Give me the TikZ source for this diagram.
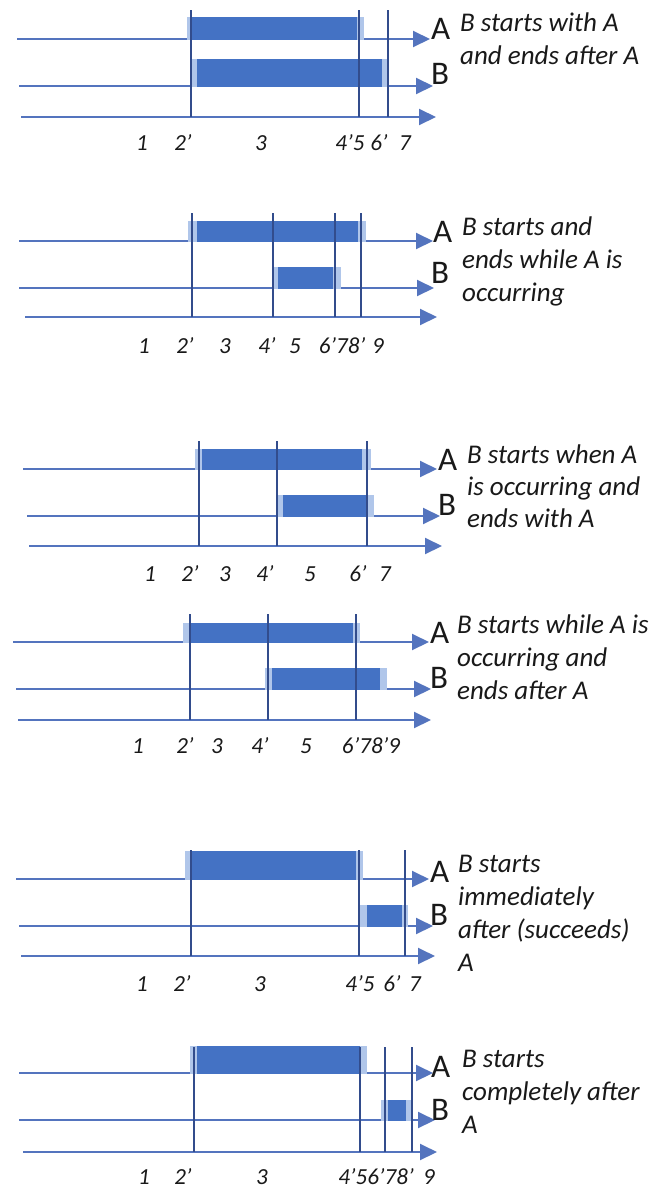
\documentclass[tikz,border=0pt]{standalone}
\usepackage{fontspec}
\setmainfont{Carlito}
\usetikzlibrary{arrows.meta}
\definecolor{barblue}{RGB}{68,114,196}
\definecolor{lightbar}{RGB}{176,198,234}
\definecolor{lineblue}{RGB}{84,116,190}
\definecolor{navy}{RGB}{50,76,140}
\definecolor{txt}{RGB}{25,25,25}
\tikzset{
  tl/.style={line width=2pt, draw=lineblue, -{Triangle[length=17pt,width=16pt]}},
  vl/.style={line width=1.1pt, draw=navy},
  dbar/.style={fill=barblue, draw=none},
  lbar/.style={fill=lightbar, draw=none},
  lab/.style={font=\fontsize{33}{33}\selectfont, anchor=base west, inner sep=0pt, text=txt},
  desc/.style={font=\fontsize{27}{33}\selectfont\itshape, anchor=base west, inner sep=0pt, text=txt},
  num/.style={font=\fontsize{23}{23}\selectfont\itshape, anchor=base, inner sep=0pt, text=txt}
}
\begin{document}
\begin{tikzpicture}[x=1pt,y=-1pt]
\useasboundingbox[fill=white] (0,0) rectangle (653,1189);

% ---------------- Panel 1 ----------------
\draw[tl] (17,39) -- (430,39);
\draw[tl] (19,86) -- (433,86);
\draw[tl] (21,117) -- (436,117);
\fill[lbar] (187,17) rectangle (364,40);
\fill[dbar] (192,17) rectangle (357,40);
\fill[lbar] (190,59) rectangle (389,87);
\fill[dbar] (197,59) rectangle (382,87);
\foreach \x in {191,359,388} \draw[vl] (\x,10) -- (\x,117);
\node[lab] (p1A) at (431,39) {A};
\node[lab] (p1B) at (431,84) {B};
\node[desc] (p1t1) at (460,31) {B starts with A};
\node[desc] (p1t2) at (460,64) {and ends after A};
\node[num] (p1n1) at (142,150) {1};
\node[num] (p1n2) at (183,150) {2’};
\node[num] (p1n3) at (261,150) {3};
\node[num] (p1n4) at (350,150) {4’5};
\node[num] (p1n6) at (379,150) {6’};
\node[num] (p1n7) at (405,150) {7};

% ---------------- Panel 2 ----------------
\draw[tl] (19,241) -- (433,241);
\draw[tl] (19,288) -- (434,288);
\draw[tl] (25,317) -- (437,317);
\fill[lbar] (188,221) rectangle (366,242);
\fill[dbar] (197,221) rectangle (358,242);
\fill[lbar] (273,267) rectangle (341,289);
\fill[dbar] (278,267) rectangle (333,289);
\foreach \x in {192,273,335,361} \draw[vl] (\x,213) -- (\x,317);
\node[lab] (p2A) at (433,242) {A};
\node[lab] (p2B) at (431,283) {B};
\node[desc] (p2t1) at (462,235) {B starts and};
\node[desc] (p2t2) at (462,268) {ends while A is};
\node[desc] (p2t3) at (462,301) {occurring};
\node[num] (p2n1) at (144,353) {1};
\node[num] (p2n2) at (185,353) {2’};
\node[num] (p2n3) at (225,353) {3};
\node[num] (p2n4) at (267,353) {4’};
\node[num] (p2n5) at (295,353) {5};
\node[num] (p2n6) at (342,353) {6’78’};
\node[num] (p2n9) at (378,353) {9};

% ---------------- Panel 3 ----------------
\draw[tl] (23,469) -- (437,469);
\draw[tl] (27,516) -- (440,516);
\draw[tl] (29,546) -- (442,546);
\fill[lbar] (195,449) rectangle (371,470);
\fill[dbar] (202,449) rectangle (362,470);
\fill[lbar] (278,495) rectangle (374,517);
\fill[dbar] (283,495) rectangle (367,517);
\foreach \x in {199,277,367} \draw[vl] (\x,441) -- (\x,546);
\node[lab] (p3A) at (438,470) {A};
\node[lab] (p3B) at (438,515) {B};
\node[desc] (p3t1) at (467,463) {B starts when A};
\node[desc] (p3t2) at (467,495) {is occurring and};
\node[desc] (p3t3) at (467,527) {ends with A};
\node[num] (p3n1) at (150,581) {1};
\node[num] (p3n2) at (190,581) {2’};
\node[num] (p3n3) at (225,581) {3};
\node[num] (p3n4) at (265,581) {4’};
\node[num] (p3n5) at (310,581) {5};
\node[num] (p3n6) at (358,581) {6’};
\node[num] (p3n7) at (385,581) {7};

% ---------------- Panel 4 ----------------
\draw[tl] (13,642) -- (429,642);
\draw[tl] (16,689) -- (431,689);
\draw[tl] (18,720) -- (431,720);
\fill[lbar] (183,623) rectangle (360,643);
\fill[dbar] (191,623) rectangle (353,643);
\fill[lbar] (265,668) rectangle (387,690);
\fill[dbar] (272,668) rectangle (380,690);
\foreach \x in {190,268,356} \draw[vl] (\x,614) -- (\x,720);
\node[lab] (p4A) at (430,643) {A};
\node[lab] (p4B) at (430,688) {B};
\node[desc] (p4t1) at (457,633) {B starts while A is};
\node[desc] (p4t2) at (457,666) {occurring and};
\node[desc] (p4t3) at (457,699) {ends after A};
\node[num] (p4n1) at (138,753) {1};
\node[num] (p4n2) at (185,753) {2’};
\node[num] (p4n3) at (217,753) {3};
\node[num] (p4n4) at (260,753) {4’};
\node[num] (p4n5) at (306,753) {5};
\node[num] (p4n6) at (371,753) {6’78’9};

% ---------------- Panel 5 ----------------
\draw[tl] (16,879) -- (429,879);
\draw[tl] (19,926) -- (433,926);
\draw[tl] (21,956) -- (435,956);
\fill[lbar] (185,851) rectangle (363,880);
\fill[dbar] (192,851) rectangle (356,880);
\fill[lbar] (360,905) rectangle (408,927);
\fill[dbar] (367,905) rectangle (402,927);
\foreach \x in {191,359,405} \draw[vl] (\x,850) -- (\x,956);
\node[lab] (p5A) at (430,882) {A};
\node[lab] (p5B) at (430,925) {B};
\node[desc] (p5t1) at (458,872) {B starts};
\node[desc] (p5t2) at (458,905) {immediately};
\node[desc] (p5t3) at (458,938) {after (succeeds)};
\node[desc] (p5t4) at (458,971) {A};
\node[num] (p5n1) at (142,991) {1};
\node[num] (p5n2) at (182,991) {2’};
\node[num] (p5n3) at (260,991) {3};
\node[num] (p5n4) at (360,991) {4’5};
\node[num] (p5n6) at (392,991) {6’};
\node[num] (p5n7) at (415,991) {7};

% ---------------- Panel 6 ----------------
\draw[tl] (19,1073) -- (433,1073);
\draw[tl] (19,1120) -- (435,1120);
\draw[tl] (23,1152) -- (437,1152);
\fill[lbar] (190,1046) rectangle (367,1074);
\fill[dbar] (197,1046) rectangle (360,1074);
\fill[lbar] (381,1100) rectangle (412,1121);
\fill[dbar] (388,1100) rectangle (406,1121);
\foreach \x in {194,360,385,412} \draw[vl] (\x,1047) -- (\x,1152);
\node[lab] (p6A) at (431,1077) {A};
\node[lab] (p6B) at (431,1120) {B};
\node[desc] (p6t1) at (462,1067) {B starts};
\node[desc] (p6t2) at (462,1100) {completely after};
\node[desc] (p6t3) at (462,1133) {A};
\node[num] (p6n1) at (144,1184) {1};
\node[num] (p6n2) at (183,1184) {2’};
\node[num] (p6n3) at (262,1184) {3};
\node[num] (p6n4) at (376,1184) {4’56’78’};
\node[num] (p6n9) at (429,1184) {9};
\end{tikzpicture}
\end{document}
